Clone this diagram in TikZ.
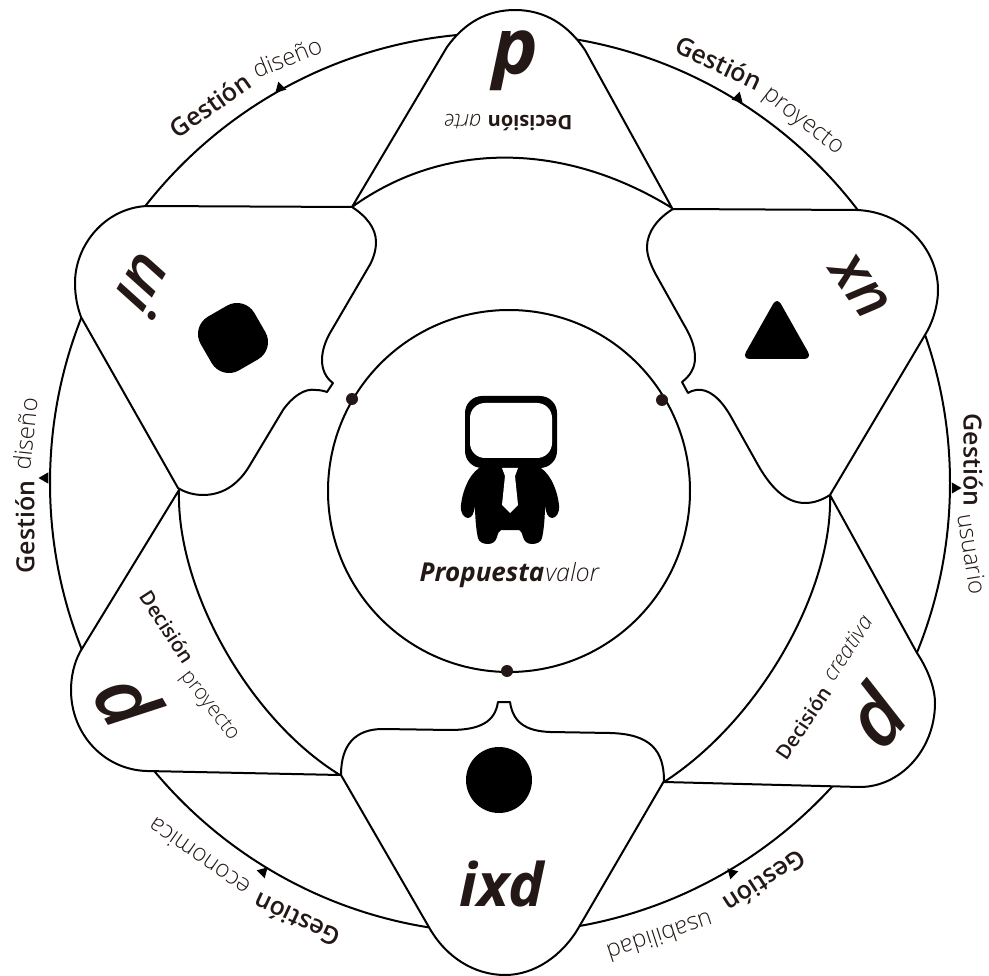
\documentclass[tikz,border=0pt]{standalone}
\usepackage{fontspec}
\setmainfont{Open Sans}
\newfontfamily\fuerte[ItalicFont={Open Sans Bold Italic}]{Open Sans Bold}
\newfontfamily\media[ItalicFont={Open Sans Semibold Italic}]{Open Sans Semibold}
\newfontfamily\fina[ItalicFont={Open Sans Light Italic}]{Open Sans Light}
\usetikzlibrary{shapes.geometric}
\definecolor{tinta}{HTML}{231815}
\newcommand{\tam}[1]{\fontsize{#1}{#1}\selectfont}

\begin{document}
\begin{tikzpicture}[x=1pt,y=-1pt,line width=2pt,inner sep=0pt]
  \tikzstyle{every node}=[text=tinta]
  \tikzstyle{pieza}=[draw=black,fill=white,line join=round]
  \tikzstyle{punto}=[circle,fill=tinta,minimum size=12pt]
  \tikzstyle{marca}=[regular polygon,regular polygon sides=3,fill=black,minimum size=13pt]
  \tikzstyle{gestion}=[font=\media\tam{25}]
  \tikzstyle{ambito}=[font=\fina\tam{24}]
  \tikzstyle{decision}=[font=\media\tam{20}]
  \tikzstyle{detalle}=[font=\fina\itshape\tam{22}]
  \tikzstyle{letra}=[font=\fuerte\itshape\tam{78}]
  \tikzstyle{letrafina}=[font=\media\itshape\tam{80}]
  \useasboundingbox (0,0) rectangle (989,976);

  % anillo exterior
  \draw (500,483) circle (450pt);
  \draw[fill=white] (509,491) circle (181pt);

  % piezas en punta
  \draw[pieza] (352,207) -- (447,47) .. controls (465,22) and (488,10) .. (515,10)
    .. controls (545,10) and (568,25) .. (585,50) -- (672,208)
    .. controls (565,142) and (445,140) .. (352,207) -- cycle;
  \draw[pieza] (179,490) -- (80,652) .. controls (74,663) and (71,677) .. (71,690)
    .. controls (71,735) and (105,770) .. (147,771) -- (340,775)
    .. controls (250,720) and (176,590) .. (179,490) -- cycle;
  \draw[pieza] (830,495) -- (917,653) .. controls (927,668) and (935,687) .. (935,703)
    .. controls (935,750) and (900,787) .. (860,787) -- (664,782)
    .. controls (760,720) and (833,590) .. (830,495) -- cycle;

  % piezas redondeadas
  \draw[pieza] (352,207) -- (147,206) .. controls (105,208) and (75,245) .. (75,283)
    .. controls (75,295) and (77,306) .. (81,317) -- (178,488)
    .. controls (186,493) and (195,495) .. (203,495) .. controls (225,495) and (240,482) .. (250,465)
    -- (283,410) .. controls (293,396) and (305,388) .. (316,390)
    .. controls (320,390) and (324,391) .. (327,392) -- (333,383)
    .. controls (326,378) and (322,370) .. (322,360) .. controls (322,350) and (326,340) .. (330,333)
    -- (368,268) .. controls (373,260) and (376,251) .. (376,242)
    .. controls (376,228) and (366,216) .. (352,207) -- cycle;
  \draw[pieza] (673,209) -- (857,210) .. controls (905,212) and (938,250) .. (938,290)
    .. controls (938,305) and (933,322) .. (925,335) -- (830,495)
    .. controls (822,500) and (814,503) .. (805,503) .. controls (785,503) and (770,486) .. (758,465)
    -- (730,415) .. controls (720,398) and (708,388) .. (696,390)
    .. controls (693,390) and (690,392) .. (688,393) -- (682,382)
    .. controls (690,376) and (695,368) .. (695,358) .. controls (695,345) and (690,335) .. (683,323)
    -- (655,273) .. controls (650,263) and (647,255) .. (647,247)
    .. controls (647,232) and (658,218) .. (673,209) -- cycle;
  \draw[pieza] (664,781) .. controls (664,750) and (650,734) .. (610,733) -- (550,732)
    .. controls (525,731) and (513,722) .. (510,702) -- (498,702)
    .. controls (495,722) and (480,730) .. (450,730) -- (383,729)
    .. controls (355,729) and (341,745) .. (341,775) -- (430,929)
    .. controls (447,958) and (475,975) .. (505,975) .. controls (535,975) and (563,955) .. (579,927)
    -- cycle;

  % figuras
  \node[circle,fill=black,minimum size=66pt] (circulo) at (499,780) {};
  \node[rectangle,rounded corners=20pt,fill=black,minimum size=62pt,rotate=30] (cuadro) at (233,338) {};
  \fill[black,rounded corners=8pt] (777,297) -- (812,359) -- (742,359) -- cycle;

  % persona
  \fill[black,rounded corners=17pt] (465,396) rectangle (557,468);
  \fill[white,rounded corners=15pt] (470,403) rectangle (552,458);
  \fill[black] (483,466) -- (537,466) .. controls (548,470) and (557,487) .. (559,505)
    .. controls (560,513) and (556,518) .. (552,518) .. controls (548,518) and (546,513) .. (545,506)
    .. controls (545,515) and (544,530) .. (542,538) .. controls (541,542) and (537,544) .. (532,544)
    .. controls (527,544) and (524,541) .. (523,537) .. controls (522,533) and (521,531) .. (519,530)
    -- (501,530) .. controls (499,531) and (498,533) .. (497,537)
    .. controls (496,541) and (493,544) .. (488,544) .. controls (483,544) and (479,542) .. (478,538)
    .. controls (476,530) and (475,515) .. (475,506) .. controls (474,513) and (472,518) .. (468,518)
    .. controls (464,518) and (460,513) .. (461,505) .. controls (463,487) and (472,470) .. (483,466) -- cycle;
  \fill[white] (502,468) -- (518,468) -- (515,476) -- (518,505) -- (510,513) -- (502,505) -- (505,476) -- cycle;
  \node[font=\fuerte\itshape\tam{26}] (propuesta) at (482,575) {Propuesta};
  \node[font=\fina\itshape\tam{25}] (valor) at (572,572) {valor};

  % puntos
  \node[punto] (puntoA) at (352,399) {};
  \node[punto] (puntoB) at (662,400) {};
  \node[punto] (puntoC) at (507,671) {};

  % marcas del anillo
  \node[marca,rotate=15] (marcaA) at (280,88) {};
  \node[marca,rotate=-15] (marcaB) at (738,98) {};
  \node[marca,rotate=-90] (marcaC) at (955,488) {};
  \node[marca,rotate=90] (marcaD) at (45,478) {};
  \node[marca,rotate=195] (marcaE) at (263,872) {};
  \node[marca,rotate=165] (marcaF) at (732,873) {};

  % letras
  \node[letra,rotate=180] (letraA) at (515,61) {d};
  \node[letrafina,rotate=-60] (letraB) at (128,700) {d};
  \node[letrafina,rotate=50] (letraC) at (875,716) {d};
  \node[letra,font=\fuerte\itshape\tam{60}] (letraD) at (502,884) {ixd};
  \node[letrafina,font=\media\itshape\tam{60},rotate=125] (letraE) at (860,287) {ux};
  \node[letrafina,font=\media\itshape\tam{64},rotate=-120] (letraF) at (147,285) {ui};

  % decisiones
  \node[decision,font=\fuerte\tam{20},rotate=180] (decA) at (530,123) {Decisión};
  \node[detalle,rotate=180] (detA) at (463,122) {arte};
  \node[decision,rotate=-57] (decB) at (167,627) {Decisión};
  \node[detalle,font=\fina\tam{21},rotate=-52] (detB) at (209,706) {proyecto};
  \node[decision,rotate=56] (decC) at (803,723) {Decisión};
  \node[detalle,rotate=57] (detC) at (847,648) {creativa};

  % gestiones
  \node[gestion,rotate=35] (gesA) at (210,105) {Gestión};
  \node[ambito,rotate=22] (ambA) at (287,57) {diseño};
  \node[gestion,rotate=-25] (gesB) at (719,63) {Gestión};
  \node[ambito,rotate=-38] (ambB) at (803,122) {proyecto};
  \node[gestion,rotate=-90] (gesC) at (973,460) {Gestión};
  \node[ambito,rotate=-81] (ambC) at (972,554) {usuario};
  \node[gestion,rotate=90] (gesD) at (25,527) {Gestión};
  \node[ambito,rotate=84] (ambD) at (25,434) {diseño};
  \node[gestion,rotate=155] (gesE) at (297,920) {Gestión};
  \node[ambito,rotate=145] (ambE) at (199,857) {economica};
  \node[gestion,rotate=213] (gesF) at (765,882) {Gestión};
  \node[ambito,rotate=198] (ambF) at (660,937) {usabilidad};
\end{tikzpicture}
\end{document}
